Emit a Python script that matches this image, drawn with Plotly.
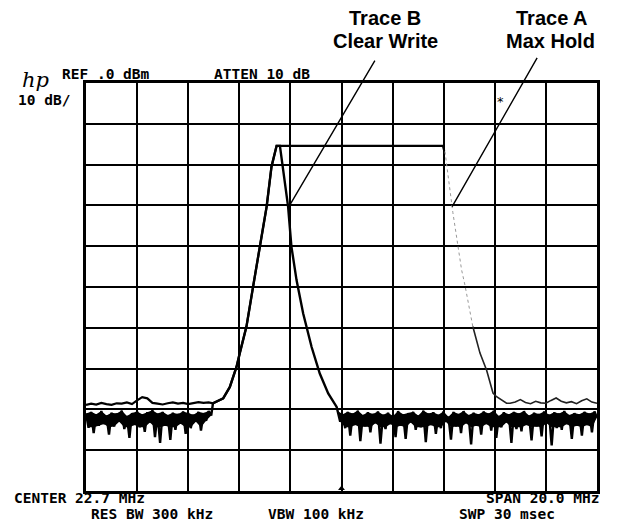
import numpy as np
import plotly.graph_objects as go

# screen settings of the analyzer
center_mhz = 22.7
span_mhz = 20.0
ref_dbm = 0.0
db_per_div = 10

f_start = center_mhz - span_mhz / 2
f_stop = center_mhz + span_mhz / 2

# Trace B (clear write): signal skirts, MHz / dBm
b_left_f = [17.67, 18.07, 18.33, 18.59, 18.72, 18.98, 19.24, 19.50, 19.77, 19.96, 20.16]
b_left_db = [-78.5, -77.3, -74.5, -69.6, -66.2, -59.7, -49.9, -40.1, -30.3, -20.5, -15.4]
b_right_f = [20.29, 20.48, 20.61, 20.74, 20.94, 21.20, 21.53, 21.85, 22.18, 22.51]
b_right_db = [-15.4, -23.7, -30.3, -40.1, -48.3, -56.5, -64.7, -71.2, -76.1, -79.4]

# Trace B noise floor (sampled evenly over each stretch)
b_noise_left_span = [12.7, 17.6]
b_noise_left = [
    -81.0, -84.5, -80.6, -85.8, -81.2, -84.0, -80.4, -83.6, -81.5, -86.2,
    -80.8, -84.2, -81.0, -83.0, -80.3, -84.8, -81.6, -87.0, -80.9, -83.8,
    -80.5, -84.4, -81.2, -85.5, -80.7, -83.2, -80.2, -86.8, -81.0, -88.2,
    -80.6, -84.0, -81.4, -87.5, -80.8, -85.0, -81.1, -83.5, -80.5, -86.0,
    -80.9, -84.6, -81.3, -83.0, -80.6, -85.2, -80.9, -82.8, -80.4, -81.5]
b_noise_right_span = [22.55, 32.7]
b_noise_right = [
    -80.4, -83.0, -81.2, -84.6, -80.6, -86.4, -81.0, -83.8, -80.3, -87.8,
    -81.4, -84.2, -80.7, -85.6, -81.1, -83.4, -80.5, -88.4, -81.3, -84.8,
    -80.8, -83.6, -81.6, -86.8, -80.4, -84.0, -81.2, -87.2, -80.9, -83.2,
    -80.6, -85.0, -81.5, -84.4, -80.3, -88.0, -81.0, -83.8, -80.7, -86.0,
    -81.3, -84.6, -80.5, -83.0, -81.8, -87.4, -80.6, -84.2, -81.1, -85.8,
    -80.4, -83.4, -81.4, -88.6, -80.8, -84.0, -81.2, -86.2, -80.5, -83.6,
    -81.0, -85.2, -80.3, -87.0, -81.6, -84.4, -80.7, -83.2, -81.2, -88.2,
    -80.6, -84.8, -81.0, -85.4, -80.4, -83.8, -81.5, -87.6, -80.8, -84.2,
    -81.1, -86.6, -80.5, -83.4, -81.3, -88.8, -80.7, -84.6, -81.0, -85.0,
    -80.4, -83.6, -81.4, -87.2, -80.9, -84.0, -81.2, -86.4, -80.6, -83.8,
    -81.0, -85.6, -80.5, -82.0]

# Trace A (max hold)
a_floor_left_span = [12.7, 17.5]
a_floor_left = [
    -78.9, -78.6, -78.8, -78.4, -78.7, -78.9, -78.5, -78.6, -78.3, -78.7,
    -77.8, -77.0, -77.3, -78.4, -78.6, -78.8, -78.5, -78.3, -78.6, -78.4,
    -78.7, -78.5, -78.2, -78.4, -78.3]
a_top_f = [20.16, 26.67, 26.72]
a_top_db = [-15.4, -15.4, -16.6]
a_fall_f = [26.75, 27.06, 27.40, 27.53, 27.84]
a_fall_db = [-16.8, -31.8, -45.8, -49.5, -59.7]
a_foot_f = [27.84, 28.12, 28.38, 28.63, 28.77, 29.16]
a_foot_db = [-59.7, -66.2, -70.4, -76.0, -76.9, -78.5]
a_floor_right_span = [29.3, 32.7]
a_floor_right = [
    -78.5, -78.2, -77.6, -78.3, -78.6, -78.0, -78.4, -78.5, -77.8, -77.2,
    -78.0, -78.4, -78.1, -78.6, -77.9, -77.4, -78.2, -78.5]

# where the two call-out lines touch the traces
b_callout = (20.64, -30.3)
a_callout = (27.03, -30.3)


def spread(span, vals):
    return list(np.linspace(span[0], span[1], len(vals)))


# graticule edges in window pixels; the page body adds an 8px margin
OFF = 8
L, R, T, B = 86, 597, 83, 491


def px(x):
    return (x - L) / (R - L)


def py(y):
    return (B - y) / (B - T)


fig = go.Figure()

# trace B noise: solid band between the peaks and the dense bottom, then the raw trace on top
for span, vals in [(b_noise_left_span, b_noise_left), (b_noise_right_span, b_noise_right)]:
    xs = spread(span, vals)
    fig.add_trace(go.Scatter(x=xs[1::2], y=list(np.maximum(vals[1::2], -84.4)), mode='lines',
                             line=dict(color='black', width=0), hoverinfo='skip'))
    fig.add_trace(go.Scatter(x=xs[0::2], y=vals[0::2], mode='lines', fill='tonexty',
                             fillcolor='black', line=dict(color='black', width=0), hoverinfo='skip'))

# trace B
b_x = spread(b_noise_left_span, b_noise_left) + b_left_f + b_right_f + spread(b_noise_right_span, b_noise_right)
b_y = b_noise_left + b_left_db + b_right_db + b_noise_right
fig.add_trace(go.Scatter(x=b_x, y=b_y, mode='lines', line=dict(color='black', width=2.4), name='Trace B'))

# trace A
a_x = spread(a_floor_left_span, a_floor_left) + b_left_f + a_top_f
a_y = a_floor_left + b_left_db + a_top_db
fig.add_trace(go.Scatter(x=a_x, y=a_y, mode='lines', line=dict(color='black', width=2.2), name='Trace A'))
fig.add_trace(go.Scatter(x=a_fall_f, y=a_fall_db, mode='lines',
                         line=dict(color='#999999', width=1, dash='dot'), name='Trace A fall'))
fig.add_trace(go.Scatter(x=a_foot_f + spread(a_floor_right_span, a_floor_right),
                         y=a_foot_db + a_floor_right, mode='lines',
                         line=dict(color='#222222', width=1.6), name='Trace A foot'))

# center marker at the bottom of the screen
fig.add_trace(go.Scatter(x=[center_mhz], y=[ref_dbm - 10 * db_per_div + 0.6], mode='markers',
                         marker=dict(symbol='triangle-up', size=6, color='black'), cliponaxis=False))

axis_style = dict(showgrid=True, gridcolor='black', gridwidth=1.7, zeroline=False,
                  showticklabels=False, ticks='', showline=True, linecolor='black',
                  linewidth=2.5, mirror=True, fixedrange=True)

fig.update_layout(
    width=620, height=523,
    margin=dict(l=L - OFF, r=620 - (R - OFF), t=T - OFF, b=523 - (B - OFF)),
    paper_bgcolor='white', plot_bgcolor='white',
    showlegend=False,
    xaxis=dict(range=[f_start, f_stop], tick0=f_start, dtick=span_mhz / 10, **axis_style),
    yaxis=dict(range=[ref_dbm - 10 * db_per_div, ref_dbm], tick0=ref_dbm, dtick=db_per_div, **axis_style),
)

mono = dict(family='DejaVu Sans Mono', size=14.5, color='black', weight='bold')
screen_text = [
    ('REF .0 dBm', 60, 74),
    ('ATTEN 10 dB', 212, 74),
    ('10 dB/', 16, 100),
    ('CENTER 22.7 MHz', 12, 498),
    ('RES BW 300 kHz', 89, 514),
    ('VBW 100 kHz', 266, 514),
    ('SPAN 20.0 MHz', 484, 498),
    ('SWP 30 msec', 457, 514),
]
for txt, x, y in screen_text:
    fig.add_annotation(text=txt, x=px(x), y=py(y), xref='paper', yref='paper',
                       xanchor='left', yanchor='middle', showarrow=False, font=mono)

fig.add_annotation(text='hp', x=px(20), y=py(80), xref='paper', yref='paper', xanchor='left',
                   yanchor='middle', showarrow=False,
                   font=dict(family='DejaVu Serif', size=21, color='black', style='italic'))
fig.add_annotation(text='*', x=px(500), y=py(102), xref='paper', yref='paper',
                   xanchor='center', yanchor='middle', showarrow=False,
                   font=dict(family='DejaVu Sans', size=13, color='black'))

# call-out labels
label_font = dict(family='Liberation Sans', size=20, color='black', weight='bold')
for txt, x, y in [('Trace B', 385, 18), ('Clear Write', 385, 41), ('Trace A', 552, 18), ('Max Hold', 550, 41)]:
    fig.add_annotation(text=txt, x=px(x), y=py(y), xref='paper', yref='paper',
                       xanchor='center', yanchor='middle', showarrow=False, font=label_font)

fig.add_annotation(x=b_callout[0], y=b_callout[1], xref='x', yref='y', text=' ',
                   showarrow=True, arrowhead=0, arrowwidth=1.4, arrowcolor='black',
                   ax=89, ay=-151, standoff=0)
fig.add_annotation(x=a_callout[0], y=a_callout[1], xref='x', yref='y', text=' ',
                   showarrow=True, arrowhead=0, arrowwidth=1.4, arrowcolor='black',
                   ax=88, ay=-154, standoff=0)

fig.write_html("out.html")
